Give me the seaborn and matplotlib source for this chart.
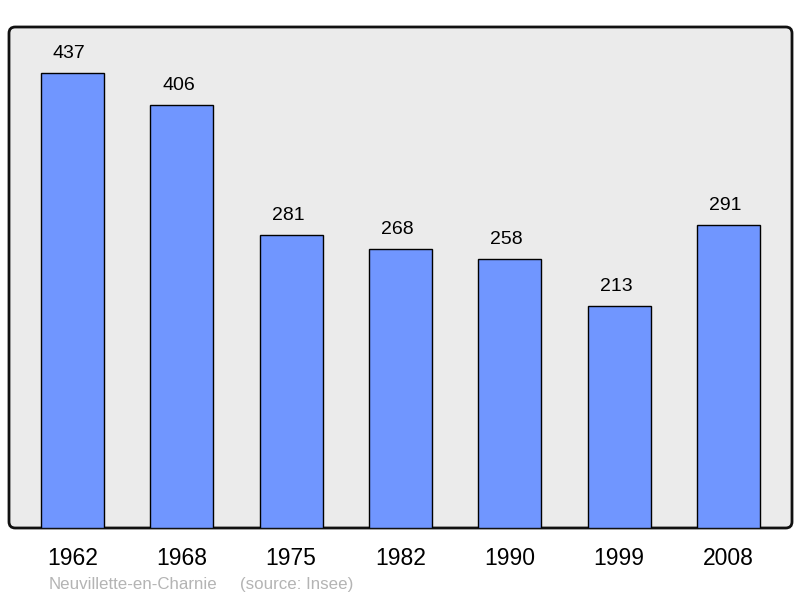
import matplotlib
matplotlib.use("Agg")
import matplotlib.pyplot as plt
import seaborn as sns
import pandas as pd
from matplotlib.patches import FancyBboxPatch

years = ["1962", "1968", "1975", "1982", "1990", "1999", "2008"]
population = [437, 406, 281, 268, 258, 213, 291]
commune = "Neuvillette-en-Charnie"
source = "(source: Insee)"

sns.set_theme(style="white")
plt.rcParams['font.family'] = ['Liberation Sans', 'DejaVu Sans']

df = pd.DataFrame({"year": years, "pop": population})

fig = plt.figure(figsize=(8, 5.98), dpi=100)
ax = fig.add_axes([9/800, 70/598, 783/800, 501/598])
ax.set_facecolor('none')

bg = FancyBboxPatch((0, 0), 1, 1, boxstyle="round,pad=0,rounding_size=0.008",
                    transform=ax.transAxes, facecolor='#ebebeb', edgecolor='#111111',
                    linewidth=2, zorder=0, clip_on=False, mutation_aspect=783/501)
ax.add_patch(bg)

sns.barplot(data=df, x="year", y="pop", order=years, color='#7096ff', saturation=1,
            width=0.576, edgecolor='black', linewidth=1, ax=ax, zorder=2)

for i, v in enumerate(population):
    ax.annotate(str(v), (i, v), xytext=(-2.2, 10.8), textcoords='offset points',
                ha='center', va='baseline', fontsize=14, color='black')

ax.set_xlim(-0.58, 6.58)
ax.set_ylim(0, 481)
ax.set_xlabel("")
ax.set_ylabel("")
ax.set_yticks([])
ax.tick_params(axis='x', length=0, pad=14, labelsize=16.5, colors='black')
for s in ax.spines.values():
    s.set_visible(False)

fig.text(49/800, 9/598, commune, fontsize=12.2, color='#b4b4b4', va='baseline', ha='left')
fig.text(240/800, 9/598, source, fontsize=12.2, color='#b4b4b4', va='baseline', ha='left')

fig.savefig("out.png", dpi=100, facecolor='white')
